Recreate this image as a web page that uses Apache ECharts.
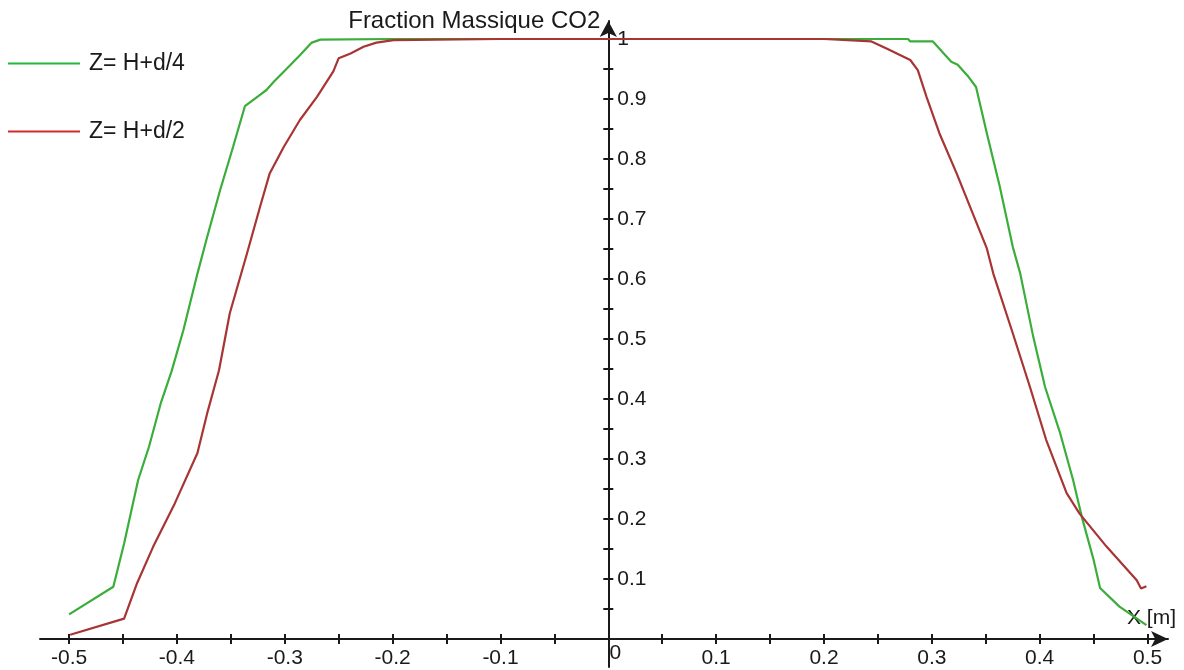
<!DOCTYPE html>
<html>
<head>
<meta charset="utf-8">
<title>Fraction Massique CO2</title>
<script src="https://cdn.jsdelivr.net/npm/echarts@6/dist/echarts.min.js"></script>
<style>
  html, body { margin: 0; padding: 0; background: #fff; }
  #chart { width: 1184px; height: 670px; }
</style>
</head>
<body>
<div id="chart"></div>
<script>
// Profile at Z = H + d/4
const greenX = [-0.500, -0.459, -0.449, -0.436, -0.426, -0.415, -0.405, -0.394, -0.381, -0.372,
  -0.360, -0.348, -0.337, -0.323, -0.317, -0.310, -0.298, -0.286, -0.275, -0.267,
  -0.200, -0.100, 0.000, 0.100, 0.200, 0.278, 0.280, 0.301, 0.314, 0.318,
  0.324, 0.334, 0.341, 0.351, 0.363, 0.375, 0.382, 0.394, 0.405, 0.419,
  0.431, 0.439, 0.450, 0.456, 0.474, 0.499];
const greenY = [0.041, 0.087, 0.159, 0.265, 0.320, 0.393, 0.446, 0.515, 0.609, 0.670,
  0.748, 0.820, 0.888, 0.907, 0.915, 0.929, 0.951, 0.973, 0.994, 0.999,
  1.000, 1.000, 1.000, 1.000, 1.000, 1.000, 0.996, 0.996, 0.970, 0.962,
  0.957, 0.937, 0.920, 0.843, 0.754, 0.654, 0.609, 0.504, 0.420, 0.343,
  0.265, 0.204, 0.132, 0.085, 0.054, 0.023];

// Profile at Z = H + d/2
const redX = [-0.499, -0.449, -0.437, -0.422, -0.402, -0.381, -0.372, -0.361, -0.351, -0.335,
  -0.323, -0.314, -0.301, -0.286, -0.270, -0.255, -0.250, -0.239, -0.227, -0.215,
  -0.199, -0.100, 0.000, 0.100, 0.200, 0.244, 0.258, 0.280, 0.287, 0.295,
  0.307, 0.323, 0.338, 0.351, 0.357, 0.375, 0.391, 0.406, 0.425, 0.437,
  0.462, 0.490, 0.494, 0.499];
const redY = [0.007, 0.034, 0.093, 0.154, 0.226, 0.310, 0.376, 0.448, 0.543, 0.643,
  0.720, 0.776, 0.820, 0.865, 0.904, 0.946, 0.968, 0.976, 0.987, 0.994,
  0.998, 1.000, 1.000, 1.000, 1.000, 0.996, 0.984, 0.965, 0.948, 0.904,
  0.843, 0.776, 0.709, 0.651, 0.609, 0.510, 0.420, 0.332, 0.243, 0.209,
  0.154, 0.098, 0.084, 0.088];

const seriesNames = ['Z= H+d/4', 'Z= H+d/2'];
const xTicks = [-0.5, -0.45, -0.4, -0.35, -0.3, -0.25, -0.2, -0.15, -0.1, -0.05, 0,
  0.05, 0.1, 0.15, 0.2, 0.25, 0.3, 0.35, 0.4, 0.45, 0.5];
const xLabels = [-0.5, -0.4, -0.3, -0.2, -0.1, 0, 0.1, 0.2, 0.3, 0.4, 0.5];
const yTicks = [0.05, 0.1, 0.15, 0.2, 0.25, 0.3, 0.35, 0.4, 0.45, 0.5, 0.55,
  0.6, 0.65, 0.7, 0.75, 0.8, 0.85, 0.9, 0.95, 1];
const yLabels = [0.1, 0.2, 0.3, 0.4, 0.5, 0.6, 0.7, 0.8, 0.9, 1];

const zip = (xs, ys) => xs.map((x, i) => [x, ys[i]]);

const FONT = 'Liberation Sans, Arial, sans-serif';
const INK = '#1a1a1a';
const W = 1184, H = 670;

// Plot area: x axis sits on the bottom edge of the plot grid (y = 0)
const PLOT = { left: 40, right: 16, top: 21, bottom: 31 };
const X_MIN = -0.527, X_MAX = 0.519;
const Y_MAX = 1.03;
// The vertical axis runs a little below the horizontal one
const Y_AXIS_MIN = -0.047;
const AXIS_BOTTOM = 3;

// Horizontal pixel position of x = 0, where the vertical axis is drawn
const plotWidth = W - PLOT.left - PLOT.right;
const zeroX = PLOT.left + (0 - X_MIN) / (X_MAX - X_MIN) * plotWidth;

const fmt = v => (Math.round(v * 10) / 10).toString();

const chart = echarts.init(document.getElementById('chart'), null, { renderer: 'canvas' });

const tickStyle = { color: INK, width: 2 };

chart.setOption({
  animation: false,
  backgroundColor: '#ffffff',
  grid: [
    { left: PLOT.left, right: PLOT.right, top: PLOT.top, bottom: PLOT.bottom,
      containLabel: false, outerBoundsMode: 'none' },
    { left: zeroX, right: W - zeroX - 1, top: PLOT.top, bottom: AXIS_BOTTOM,
      containLabel: false, outerBoundsMode: 'none' }
  ],
  legend: {
    orient: 'vertical',
    left: 8,
    top: 52,
    padding: 0,
    itemWidth: 72,
    itemHeight: 2,
    itemGap: 45,
    icon: 'rect',
    selectedMode: false,
    textStyle: { fontFamily: FONT, fontSize: 23, color: INK, padding: [0, 0, 0, 4] },
    data: [
      { name: seriesNames[0], itemStyle: { color: '#22b840' } },
      { name: seriesNames[1], itemStyle: { color: '#d42a2a' } }
    ]
  },
  xAxis: [
    {
      gridIndex: 0,
      type: 'value',
      position: 'bottom',
      min: X_MIN,
      max: X_MAX,
      name: 'X [m]',
      nameLocation: 'end',
      nameGap: 8,
      nameTextStyle: {
        fontFamily: FONT, fontSize: 21, color: INK,
        align: 'right', verticalAlign: 'bottom', padding: [0, 0, 10, 0]
      },
      axisLine: {
        onZero: false,
        symbol: ['none', 'arrow'],
        symbolSize: [12, 17],
        lineStyle: { color: INK, width: 2 }
      },
      axisTick: { show: true, inside: false, length: 5, customValues: xTicks, lineStyle: tickStyle },
      axisLabel: {
        show: true, margin: 9,
        customValues: xLabels,
        fontFamily: FONT, fontSize: 21, color: INK,
        formatter: v => (Math.abs(v) < 1e-9 ? '{z|0}' : fmt(v)),
        rich: { z: { fontFamily: FONT, fontSize: 21, color: INK, lineHeight: 11, padding: [0, 0, 0, 14] } }
      },
      splitLine: { show: false }
    },
    {
      gridIndex: 0,
      type: 'value',
      position: 'bottom',
      min: X_MIN,
      max: X_MAX,
      axisLine: { show: false, onZero: false },
      axisTick: { show: true, inside: true, length: 5, customValues: xTicks, lineStyle: tickStyle },
      axisLabel: { show: false },
      splitLine: { show: false }
    },
    {
      gridIndex: 1,
      type: 'value',
      min: 0,
      max: 1,
      show: false
    }
  ],
  yAxis: [
    {
      gridIndex: 0,
      type: 'value',
      min: 0,
      max: Y_MAX,
      show: false
    },
    {
      gridIndex: 1,
      type: 'value',
      position: 'left',
      min: Y_AXIS_MIN,
      max: Y_MAX,
      name: 'Fraction Massique CO2',
      nameLocation: 'end',
      nameGap: 0,
      nameTextStyle: {
        fontFamily: FONT, fontSize: 24, color: INK,
        align: 'right', verticalAlign: 'middle', padding: [0, 8, 0, 0]
      },
      axisLine: {
        onZero: false,
        symbol: ['none', 'arrow'],
        symbolSize: [13, 16],
        lineStyle: { color: INK, width: 2 }
      },
      axisTick: { show: true, inside: false, length: 5, customValues: yTicks, lineStyle: tickStyle },
      axisLabel: {
        show: true, inside: true, margin: 9,
        customValues: yLabels,
        fontFamily: FONT, fontSize: 21, color: INK,
        formatter: v => fmt(v)
      },
      splitLine: { show: false }
    },
    {
      gridIndex: 1,
      type: 'value',
      position: 'left',
      min: Y_AXIS_MIN,
      max: Y_MAX,
      axisLine: { show: false, onZero: false },
      axisTick: { show: true, inside: true, length: 5, customValues: yTicks, lineStyle: tickStyle },
      axisLabel: { show: false },
      splitLine: { show: false }
    }
  ],
  series: [
    {
      name: seriesNames[0],
      type: 'line',
      xAxisIndex: 0,
      yAxisIndex: 0,
      showSymbol: false,
      symbol: 'none',
      clip: false,
      lineStyle: { color: '#3aad3a', width: 2.2 },
      itemStyle: { color: '#3aad3a' },
      data: zip(greenX, greenY),
      z: 3
    },
    {
      name: seriesNames[1],
      type: 'line',
      xAxisIndex: 0,
      yAxisIndex: 0,
      showSymbol: false,
      symbol: 'none',
      clip: false,
      lineStyle: { color: '#a83434', width: 2.2 },
      itemStyle: { color: '#a83434' },
      data: zip(redX, redY),
      z: 4
    }
  ]
});
</script>
</body>
</html>
